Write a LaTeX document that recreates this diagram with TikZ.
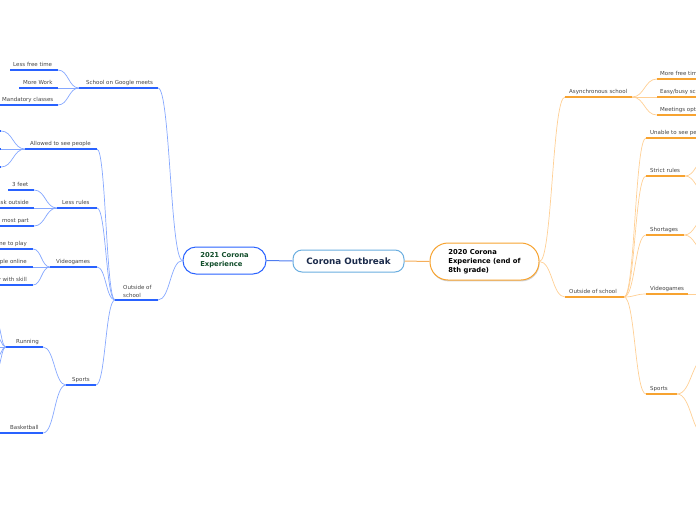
\documentclass[tikz,border=0pt]{standalone}
\usepackage{fontspec}
\setmainfont{DejaVu Sans}
\usetikzlibrary{calc,shadows}
\definecolor{bul}{HTML}{2962FF}
\definecolor{bcon}{HTML}{86A8FF}
\definecolor{bmid}{HTML}{4F7DF0}
\definecolor{oul}{HTML}{F7A330}
\definecolor{ocon}{HTML}{FFCF94}
\definecolor{omid}{HTML}{F5AE5A}
\definecolor{lbltxt}{HTML}{444444}
\definecolor{cbord}{HTML}{6AAEE0}
\definecolor{ctext}{HTML}{1B2B4B}
\definecolor{ltext}{HTML}{114D2A}
\begin{document}
\begin{tikzpicture}[x=1pt,y=-1pt,
 mm/.style={to path={let \p1=(\tikztostart),\p2=(\tikztotarget) in .. controls ({0.5*\x1+0.5*\x2},\y1) and ({0.5*\x1+0.5*\x2},\y2) .. (\tikztotarget)}},
 bc/.style={draw=bcon,line width=0.7pt,mm},
 oc/.style={draw=ocon,line width=0.7pt,mm},
 bu/.style={draw=bul,line width=1.5pt},
 ou/.style={draw=oul,line width=1.5pt},
 lbl/.style={font=\fontsize{5.5}{7}\selectfont,text=lbltxt,inner sep=0pt,anchor=base west},
 lble/.style={lbl,anchor=base east},
 topic/.style={line width=1pt,align=left,inner sep=0pt,font=\bfseries\fontsize{6.8}{9}\selectfont},
]
\clip (0,0) rectangle (696,520);
% ---------- coordinates: left ----------
\coordinate (sgL) at (79,88);   \coordinate (sgR) at (158,88);
\coordinate (lfL) at (10,70);   \coordinate (lfR) at (58,70);
\coordinate (mwL) at (19,88);   \coordinate (mwR) at (58,88);
\coordinate (mcL) at (-2,105);  \coordinate (mcR) at (58,105);
\coordinate (osL) at (115,300); \coordinate (osR) at (158,300);
\coordinate (apL) at (25,149);  \coordinate (apR) at (97,149);
\coordinate (apaR) at (1,131);  \coordinate (apaL) at (-40,131);
\coordinate (apbR) at (1,149);  \coordinate (apbL) at (-40,149);
\coordinate (apcR) at (1,167);  \coordinate (apcL) at (-40,167);
\coordinate (lrL) at (57,208);  \coordinate (lrR) at (97,208);
\coordinate (tfL) at (8,190);   \coordinate (tfR) at (34,190);
\coordinate (nmL) at (-60,208); \coordinate (nmR) at (34,208);
\coordinate (npL) at (-80,226); \coordinate (npR) at (34,226);
\coordinate (vgL) at (50,267);  \coordinate (vgR) at (97,267);
\coordinate (vaL) at (-70,249); \coordinate (vaR) at (33,249);
\coordinate (vbL) at (-80,267); \coordinate (vbR) at (33,267);
\coordinate (vcL) at (-60,285); \coordinate (vcR) at (33,285);
\coordinate (spL) at (66,385);  \coordinate (spR) at (96,385);
\coordinate (ruL) at (6,347);   \coordinate (ruR) at (43,347);
\coordinate (bbL) at (-2,433);  \coordinate (bbR) at (43,433);
\coordinate (raR) at (-4,322); \coordinate (rbR) at (-4,336);
\coordinate (rcR) at (-4,347); \coordinate (rdR) at (-4,358);
\coordinate (reR) at (-4,370);
% ---------- coordinates: right ----------
\coordinate (asL) at (565,97);  \coordinate (asR) at (632,97);
\coordinate (aaL) at (657,79);  \coordinate (aaR) at (730,79);
\coordinate (abL) at (657,97);  \coordinate (abR) at (730,97);
\coordinate (acL) at (657,115); \coordinate (acR) at (730,115);
\coordinate (orL) at (565,297); \coordinate (orR) at (624,297);
\coordinate (unL) at (646,138); \coordinate (unR) at (730,138);
\coordinate (srL) at (646,176); \coordinate (srR) at (685,176);
\coordinate (sraL) at (706,160); \coordinate (srbL) at (706,192);
\coordinate (shL) at (646,235); \coordinate (shR) at (684,235);
\coordinate (shaL) at (706,219); \coordinate (shbL) at (706,251);
\coordinate (vrL) at (646,294); \coordinate (vrR) at (688,294);
\coordinate (vraL) at (706,294);
\coordinate (soL) at (646,394); \coordinate (soR) at (677,394);
\coordinate (soaL) at (706,358); \coordinate (sobL) at (706,436);
% ---------- main nodes ----------
\node[topic,draw=cbord,rounded corners=9pt,fill=white,minimum width=111pt,minimum height=22pt,font=\bfseries\fontsize{8.8}{10}\selectfont,text=ctext] (C) at (348.5,261) {Corona Outbreak};
\node[topic,draw=bul,rounded corners=13pt,fill=white,minimum width=83pt,minimum height=27pt,text=ltext] (L) at (224.5,260.5) {2021 Corona\\Experience};
\node[topic,draw=oul,rounded corners=18pt,fill=white,drop shadow={shadow xshift=0.6pt,shadow yshift=-1.4pt,opacity=0.35},minimum width=109pt,minimum height=37pt,text=black] (R) at (484.5,261.5) {2020 Corona\\Experience (end of\\8th grade)};
% ---------- main connectors ----------
\draw[draw=bmid,line width=1pt] (C.west) -- (L.east);
\draw[draw=omid,line width=1pt] (C.east) -- (R.west);
% ---------- left connectors ----------
\draw[bc] (L.west) to (sgR);
\draw[bc] (L.west) to (osR);
\draw[bc] (sgL) to (lfR);
\draw[bc] (sgL) to (mwR);
\draw[bc] (sgL) to (mcR);
\draw[bc] (osL) to (apR);
\draw[bc] (osL) to (lrR);
\draw[bc] (osL) to (vgR);
\draw[bc] (osL) to (spR);
\draw[bc] (apL) to (apaR);
\draw[bc] (apL) to (apbR);
\draw[bc] (apL) to (apcR);
\draw[bc] (lrL) to (tfR);
\draw[bc] (lrL) to (nmR);
\draw[bc] (lrL) to (npR);
\draw[bc] (vgL) to (vaR);
\draw[bc] (vgL) to (vbR);
\draw[bc] (vgL) to (vcR);
\draw[bc] (spL) to (ruR);
\draw[bc] (spL) to (bbR);
\draw[bc] (ruL) to (raR);
\draw[bc] (ruL) to (rbR);
\draw[bc] (ruL) to (rcR);
\draw[bc] (ruL) to (rdR);
\draw[bc] (ruL) to (reR);
% ---------- left underlines ----------
\draw[bu] (sgL) -- (sgR);
\draw[bu] (lfL) -- (lfR);
\draw[bu] (mwL) -- (mwR);
\draw[bu] (mcL) -- (mcR);
\draw[bu] (osL) -- (osR);
\draw[bu] (apL) -- (apR);
\draw[bu] (apaL) -- (apaR);
\draw[bu] (apbL) -- (apbR);
\draw[bu] (apcL) -- (apcR);
\draw[bu] (lrL) -- (lrR);
\draw[bu] (tfL) -- (tfR);
\draw[bu] (nmL) -- (nmR);
\draw[bu] (npL) -- (npR);
\draw[bu] (vgL) -- (vgR);
\draw[bu] (vaL) -- (vaR);
\draw[bu] (vbL) -- (vbR);
\draw[bu] (vcL) -- (vcR);
\draw[bu] (spL) -- (spR);
\draw[bu] (ruL) -- (ruR);
\draw[bu] (bbL) -- (bbR);
% ---------- left labels ----------
\node[lbl] (sg) at (86,84) {School on Google meets};
\node[lbl] (lf) at (13,66) {Less free time};
\node[lbl] (mw) at (23,84) {More Work};
\node[lbl] (mc) at (2,101) {Mandatory classes};
\node[lbl,anchor=south west,align=left,font=\fontsize{5.5}{7.5}\selectfont] (os) at (123,297.5) {Outside of\\school};
\node[lbl] (ap) at (30,145) {Allowed to see people};
\node[lbl] (lr) at (62,204) {Less rules};
\node[lbl] (tf) at (12,186) {3 feet};
\node[lble] (nm) at (29,204) {No mask outside};
\node[lble] (np) at (29,222) {Normal for the most part};
\node[lbl] (vg) at (56,263) {Videogames};
\node[lble] (va) at (27,245) {More time to play};
\node[lble] (vb) at (27,263) {Play with people online};
\node[lble] (vc) at (27,281) {Play with skill};
\node[lbl] (sp) at (72,381) {Sports};
\node[lbl] (ru) at (16,343) {Running};
\node[lbl] (bb) at (10,429) {Basketball};
% ---------- right connectors ----------
\draw[oc] (R.east) to (asL);
\draw[oc] (R.east) to (orL);
\draw[oc] (asR) to (aaL);
\draw[oc] (asR) to (abL);
\draw[oc] (asR) to (acL);
\draw[oc] (orR) to (unL);
\draw[oc] (orR) to (srL);
\draw[oc] (orR) to (shL);
\draw[oc] (orR) to (vrL);
\draw[oc] (orR) to (soL);
\draw[oc] (srR) to (sraL);
\draw[oc] (srR) to (srbL);
\draw[oc] (shR) to (shaL);
\draw[oc] (shR) to (shbL);
\draw[oc] (vrR) to (vraL);
\draw[oc] (soR) to (soaL);
\draw[oc] (soR) to (sobL);
% ---------- right underlines ----------
\draw[ou] (asL) -- (asR);
\draw[ou] (aaL) -- (aaR);
\draw[ou] (abL) -- (abR);
\draw[ou] (acL) -- (acR);
\draw[ou] (orL) -- (orR);
\draw[ou] (unL) -- (unR);
\draw[ou] (srL) -- (srR);
\draw[ou] (shL) -- (shR);
\draw[ou] (vrL) -- (vrR);
\draw[ou] (soL) -- (soR);
% ---------- right labels ----------
\node[lbl] (as) at (569,93) {Asynchronous school};
\node[lbl] (aa) at (660,75) {More free time};
\node[lbl] (ab) at (660,93) {Easy/busy schedule};
\node[lbl] (ac) at (660,111) {Meetings optional};
\node[lbl] (or) at (569,293) {Outside of school};
\node[lbl] (un) at (650,134) {Unable to see people};
\node[lbl] (sr) at (650,172) {Strict rules};
\node[lbl] (sh) at (650,231) {Shortages};
\node[lbl] (vr) at (650,290) {Videogames};
\node[lbl] (so) at (650,390) {Sports};
\end{tikzpicture}
\end{document}
